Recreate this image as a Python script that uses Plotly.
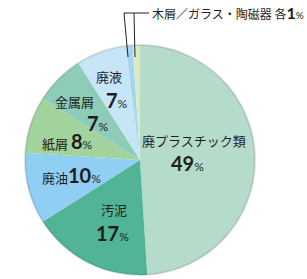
import plotly.graph_objects as go

W, H = 307, 279

labels = ["廃プラスチック類", "汚泥", "廃油", "紙屑", "金属屑", "廃液", "木屑", "ガラス・陶磁器"]
values = [49, 17, 10, 8, 7, 7, 1, 1]
colors = ["#b5dccb", "#52b497", "#90cff3", "#a2d39c", "#8ecbb9", "#c6e5f7", "#a6d6ef", "#dce9c2"]

def px(x):
    return x / W

def py(y):
    return 1 - y / H

fig = go.Figure(go.Pie(
    labels=labels, values=values, sort=False, direction="clockwise", rotation=0,
    marker=dict(colors=colors, line=dict(width=0)),
    textinfo="none", hoverinfo="label+percent", showlegend=False,
    domain=dict(x=[px(25), px(255)], y=[py(275), py(45)]),
))

FONT = "Noto Sans CJK JP"
TC = "#1e1e1e"

def pct(v, big=20, small=12):
    return (f"<span style='font-size:{big}px;font-weight:bold;font-family:Lato'>{v}</span>"
            f"<span style='font-size:{small}px;font-family:Lato'>%</span>")

ann = [
    (194, 140, labels[0], "center"),
    (187, 163, pct(values[0]), "center"),
    (114, 209, labels[1], "center"),
    (112, 233, pct(values[1]), "center"),
    (40, 175, labels[2] + pct(values[2]), "left"),
    (40, 141, labels[3] + " " + pct(values[3]), "left"),
    (74, 101, labels[4], "center"),
    (98, 123, pct(values[4]), "center"),
    (109, 76, labels[5], "center"),
    (117, 100, pct(values[5]), "center"),
]
annotations = []
for x, y, t, anc in ann:
    annotations.append(dict(x=px(x), y=py(y), xref="paper", yref="paper", text=t,
                            showarrow=False, xanchor=anc, yanchor="middle",
                            font=dict(family=FONT, size=13, color=TC)))
annotations.append(dict(x=px(150), y=py(13), xref="paper", yref="paper",
                        text=labels[6] + "／" + labels[7] + " 各" + pct(values[6], 16, 10),
                        showarrow=False, xanchor="left", yanchor="middle",
                        font=dict(family=FONT, size=12, color=TC)))

shapes = [
    dict(type="circle", xref="paper", yref="paper", x0=px(25), x1=px(255), y0=py(275), y1=py(45),
         line=dict(color="rgba(0,0,0,0.12)", width=2)),
    dict(type="line", xref="paper", yref="paper", x0=px(124), y0=py(13), x1=px(149), y1=py(13),
         line=dict(color="#222", width=1)),
    dict(type="line", xref="paper", yref="paper", x0=px(124), y0=py(13), x1=px(128), y1=py(57),
         line=dict(color="#222", width=1)),
    dict(type="line", xref="paper", yref="paper", x0=px(134), y0=py(13), x1=px(135), y1=py(57),
         line=dict(color="#222", width=1)),
]

fig.update_layout(width=W, height=H, margin=dict(l=0, r=0, t=0, b=0),
                  paper_bgcolor="white", plot_bgcolor="white",
                  annotations=annotations, shapes=shapes)
fig.write_html("out.html")
